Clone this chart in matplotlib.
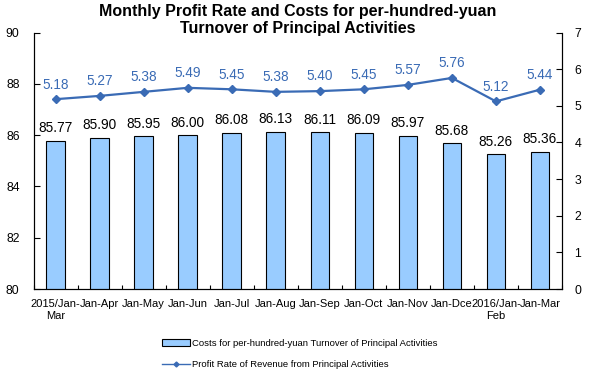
import matplotlib
matplotlib.use("Agg")
import matplotlib.pyplot as plt
import numpy as np
from matplotlib.lines import Line2D
from matplotlib.patches import Patch

categories = ["2015/Jan-\nMar", "Jan-Apr", "Jan-May", "Jan-Jun", "Jan-Jul", "Jan-Aug",
              "Jan-Sep", "Jan-Oct", "Jan-Nov", "Jan-Dce", "2016/Jan-\nFeb", "Jan-Mar"]
costs = [85.77, 85.90, 85.95, 86.00, 86.08, 86.13, 86.11, 86.09, 85.97, 85.68, 85.26, 85.36]
profit = [5.18, 5.27, 5.38, 5.49, 5.45, 5.38, 5.40, 5.45, 5.57, 5.76, 5.12, 5.44]
left_ticks = [80, 82, 84, 86, 88, 90]
right_ticks = [0, 1, 2, 3, 4, 5, 6, 7]

plt.rcParams['font.family'] = ['Liberation Sans', 'DejaVu Sans']

W, H = 589, 376
fig = plt.figure(figsize=(W / 100, H / 100), dpi=100)
L, R, T, B = 33.5, 562, 32.5, 289
ax = fig.add_axes([L / W, 1 - B / H, (R - L) / W, (B - T) / H])
ax2 = ax.twinx()

x = np.arange(len(categories))
bar_color = "#99CCFF"
line_color = "#3A6BB5"

ax.bar(x, costs, width=0.42, color=bar_color, edgecolor="black", linewidth=0.8, zorder=2)
for xi, v in zip(x, costs):
    ax.annotate(f"{v:.2f}", (xi, v), xytext=(0, 4), textcoords="offset points",
                ha="center", va="bottom", fontsize=9.8, color="black")

ax.set_ylim(80, 90)
ax.set_xlim(-0.5, len(categories) - 0.5)
ax.set_yticks(left_ticks)
ax.set_yticklabels([str(t) for t in left_ticks])
ax.set_xticks(x)
ax.set_xticklabels(categories, fontsize=8, linespacing=1.25)
ax.tick_params(axis='x', length=0, pad=7)
ax.set_xticks(np.arange(-0.5, len(categories) + 0.5, 1), minor=True)
ax.tick_params(axis='x', which='minor', direction='in', length=3, width=0.8)
ax.tick_params(axis='y', direction='in', length=4, width=0.8, labelsize=8.8, pad=10)

ax2.plot(x, profit, color=line_color, linewidth=1.6, marker="D", markersize=4.5, zorder=3)
for xi, v in zip(x, profit):
    ax2.annotate(f"{v:.2f}", (xi, v), xytext=(0, 5.5), textcoords="offset points",
                 ha="center", va="bottom", fontsize=9.8, color=line_color)
ax2.set_ylim(0, 7)
ax2.set_yticks(right_ticks)
ax2.tick_params(axis='y', direction='in', length=4, width=0.8, labelsize=8.8, pad=9)

for a in (ax, ax2):
    a.spines['top'].set_visible(False)
    for s in ('left', 'right', 'bottom'):
        a.spines[s].set_linewidth(0.8)
        a.spines[s].set_color("black")

fig.text((L + R) / 2 / W, 1 - 4 / H,
         "Monthly Profit Rate and Costs for per-hundred-yuan\nTurnover of Principal Activities",
         ha="center", va="top", fontsize=11.5, fontweight="bold", linespacing=1.2)

handles = [Patch(facecolor=bar_color, edgecolor="black", linewidth=0.8),
           Line2D([0], [0], color=line_color, linewidth=1.0, marker="D", markersize=2.5)]
labels = ["Costs for per-hundred-yuan Turnover of Principal Activities",
          "Profit Rate of Revenue from Principal Activities"]
fig.legend(handles, labels, loc="center", bbox_to_anchor=(300 / W, 1 - 354 / H),
           frameon=False, fontsize=6.8, ncol=1, handlelength=2.9, labelspacing=1.25,
           handletextpad=0.25, borderpad=0, alignment="left")

fig.savefig("out.png", dpi=100)
